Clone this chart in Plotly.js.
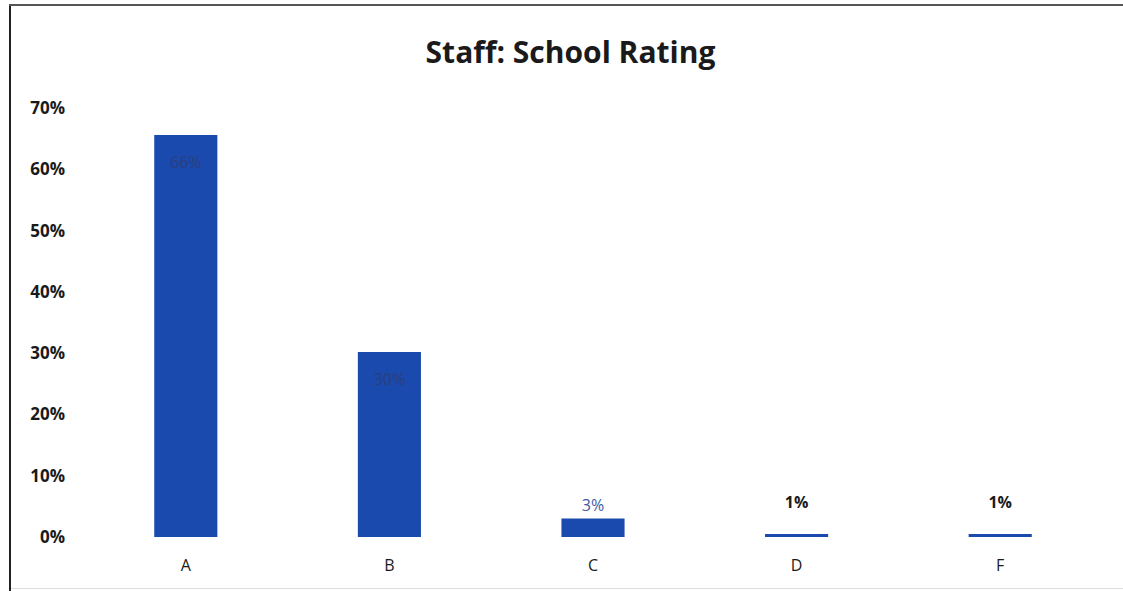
<!DOCTYPE html>
<html>
<head>
<meta charset="utf-8">
<script src="https://cdn.plot.ly/plotly-3.0.1.min.js"></script>
<style>
  html, body { margin: 0; padding: 0; background: #fff; overflow: hidden; }
  #frame { position: absolute; left: 0; top: 0; width: 1123px; height: 591px; overflow: hidden; }
  #chart { position: absolute; left: 0; top: 0; width: 1123px; height: 591px; }
  #bl { position: absolute; left: 9px; top: 5px; width: 2px; height: 586px; background: #222; }
  #bt { position: absolute; left: 9px; top: 4px; width: 1114px; height: 2px; background: #555; }
  #bb { position: absolute; left: 11px; top: 588px; width: 1112px; height: 1px; background: #ddd; }
</style>
</head>
<body>
<div id="frame">
  <div id="chart"></div>
  <div id="bl"></div>
  <div id="bt"></div>
  <div id="bb"></div>
</div>
<script>
const categories = ["A", "B", "C", "D", "F"];
const values = [65.6, 30.2, 3, 0.5, 0.5];
const labels = ["66%", "30%", "3%", "1%", "1%"];
const tickValues = [0, 10, 20, 30, 40, 50, 60, 70];
const tickLabels = ["0%", "10%", "20%", "30%", "40%", "50%", "60%", "70%"];

const labelColors = ["#2b3f7e", "#2b3f7e", "#3a5aa8", "#1a1a1a", "#1a1a1a"];

const trace = {
  type: "bar",
  x: categories,
  y: values,
  text: labels,
  texttemplate: [
    "<span style='font-size:8px'> </span><br>%{text}",
    "<span style='font-size:8px'> </span><br>%{text}",
    "%{text}",
    "<b>%{text}</b><br><span style='font-size:7px'> </span>",
    "<b>%{text}</b><br><span style='font-size:7px'> </span>"
  ],
  textposition: ["inside", "inside", "outside", "outside", "outside"],
  insidetextanchor: "end",
  textangle: 0,
  cliponaxis: false,
  textfont: { family: "Open Sans, Lato, sans-serif", size: 16, color: labelColors },
  outsidetextfont: { family: "Open Sans, Lato, sans-serif", size: 16, color: labelColors },
  marker: { color: "#1a4aad", line: { width: 0 } },
  width: 0.31,
  hoverinfo: "none"
};

const layout = {
  width: 1123,
  height: 591,
  paper_bgcolor: "rgba(0,0,0,0)",
  plot_bgcolor: "rgba(0,0,0,0)",
  margin: { l: 84, r: 21, t: 108, b: 54, pad: 0 },
  showlegend: false,
  title: {
    text: "<b>Staff: School Rating</b>",
    x: 0.508,
    xanchor: "center",
    y: 0.912,
    yanchor: "middle",
    font: { family: "Open Sans, Lato, sans-serif", size: 30, color: "#1a1a1a" }
  },
  xaxis: {
    type: "category",
    showgrid: false,
    zeroline: false,
    showline: false,
    ticks: "",
    ticklabelstandoff: 17,
    tickfont: { family: "Open Sans, Lato, sans-serif", size: 16, color: "#1a1a1a" }
  },
  yaxis: {
    range: [0, 70],
    tickvals: tickValues,
    ticktext: tickLabels,
    showgrid: false,
    zeroline: false,
    showline: false,
    ticks: "",
    ticklabelstandoff: 18,
    tickfont: { family: "Open Sans, Lato, sans-serif", size: 17, color: "#1a1a1a", weight: "bold" }
  }
};

Plotly.newPlot("chart", [trace], layout, { displayModeBar: false, staticPlot: true });
</script>
</body>
</html>
